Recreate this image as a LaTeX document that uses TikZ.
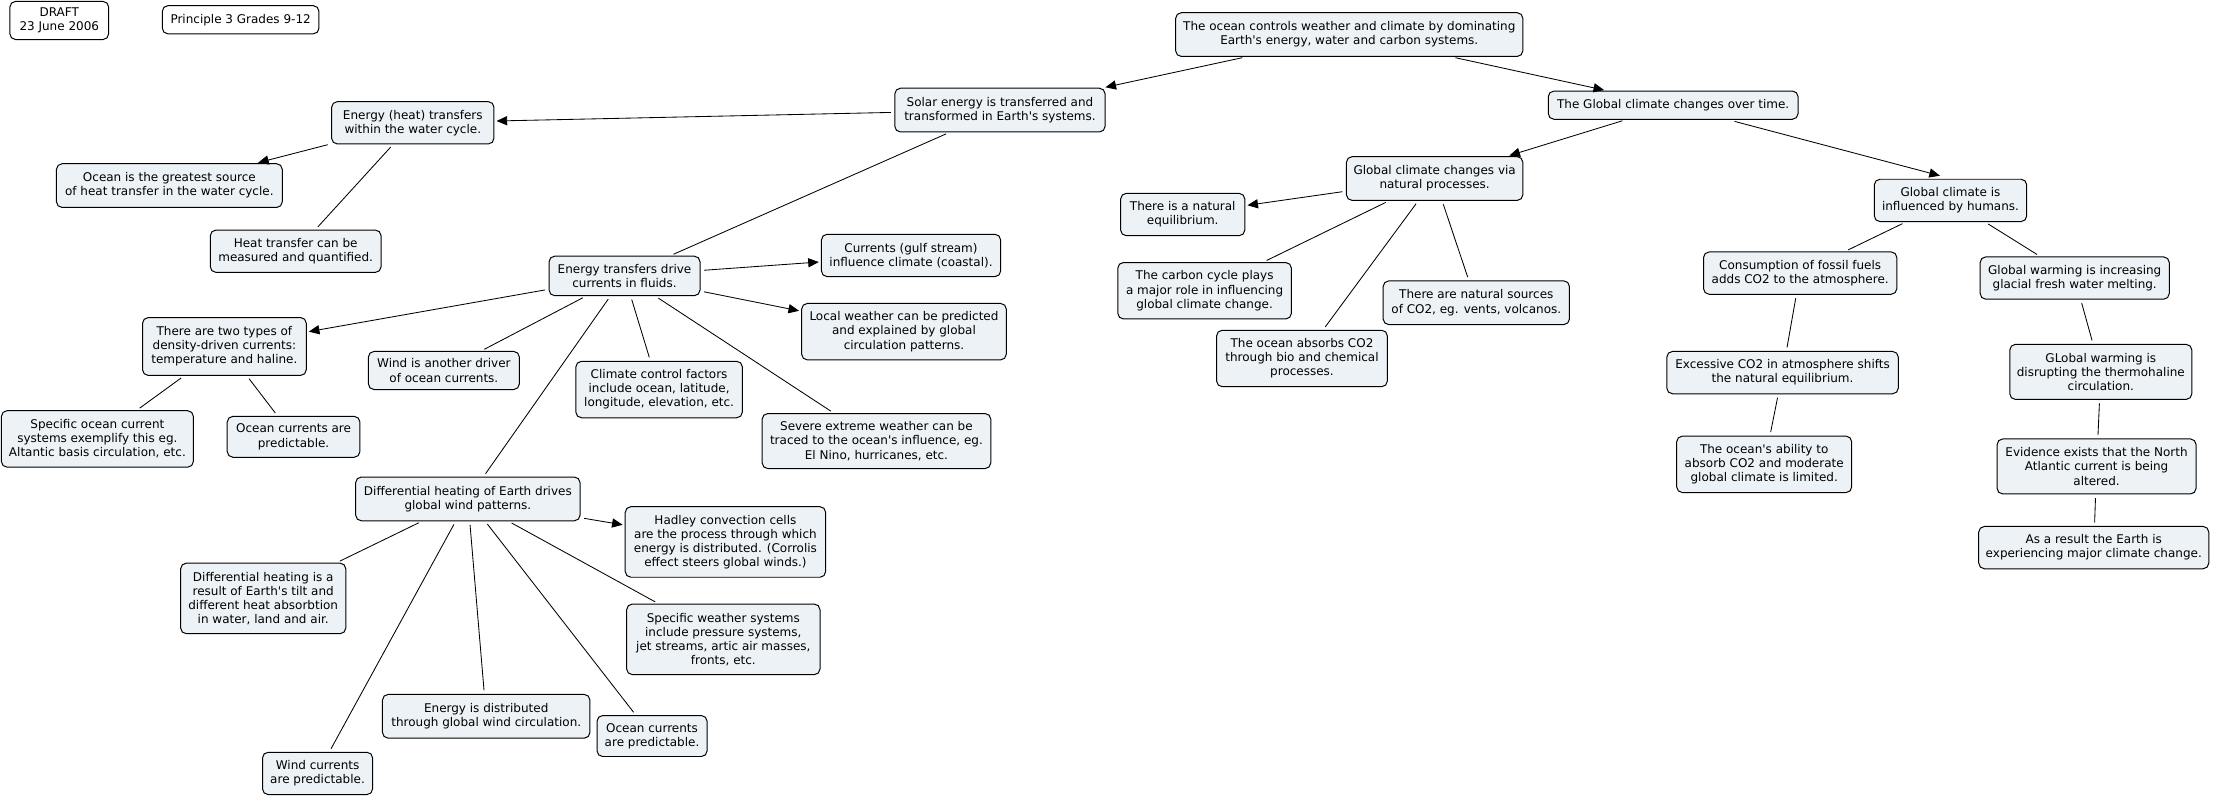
\documentclass[tikz,border=0pt]{standalone}
\usepackage{fontspec}
\setmainfont{DejaVu Sans}
\usetikzlibrary{arrows.meta,calc}
\definecolor{boxfill}{RGB}{236,242,245}
\newcommand{\aq}{\textquotesingle}
\begin{document}
\begin{tikzpicture}[x=1pt,y=-1pt,
  concept/.style={draw=black, line width=0.7pt, rounded corners=4pt, fill=boxfill,
    align=center, inner sep=0.5pt, font=\fontsize{8.5}{10}\selectfont, text=black},
  plainbox/.style={concept, fill=white},
  link/.style={line width=0.6pt, shorten <=2.5pt, shorten >=2.5pt},
  arr/.style={line width=0.6pt, shorten <=2.5pt, shorten >=1.5pt,
    -{Triangle[length=7.5pt,width=6.5pt]}},
]
\fill[white] (0,0) rectangle (1568,565);
\useasboundingbox (0,0) rectangle (1568,565);

\node[plainbox, minimum width=70pt, minimum height=27pt] (draft) at (42,14.5) {DRAFT\\23 June 2006};
\node[plainbox, minimum width=111pt, minimum height=20pt] (principle) at (170.5,14) {Principle 3 Grades 9-12};

\node[concept, minimum width=246pt, minimum height=31pt] (root) at (956,24.5) {The ocean controls weather and climate by dominating\\Earth\aq s energy, water and carbon systems.};
\node[concept, minimum width=149pt, minimum height=31pt] (solar) at (708.5,78) {Solar energy is transferred and\\transformed in Earth\aq s systems.};
\node[concept, minimum width=177pt, minimum height=20pt] (gchange) at (1185.5,74.5) {The Global climate changes over time.};
\node[concept, minimum width=115pt, minimum height=30pt] (eheat) at (292.5,87) {Energy (heat) transfers\\within the water cycle.};
\node[concept, minimum width=160pt, minimum height=31pt] (ogreat) at (120,131.5) {Ocean is the greatest source\\of heat transfer in the water cycle.};
\node[concept, minimum width=121pt, minimum height=30pt] (hmeas) at (209.5,178) {Heat transfer can be\\measured and quantified.};
\node[concept, minimum width=107pt, minimum height=28pt] (edrive) at (442.5,195.5) {Energy transfers drive\\currents in fluids.};
\node[concept, minimum width=127pt, minimum height=30pt] (cgulf) at (645.5,181) {Currents (gulf stream)\\influence climate (coastal).};
\node[concept, minimum width=145pt, minimum height=40pt] (lweather) at (640.5,235) {Local weather can be predicted\\and explained by global\\circulation patterns.};
\node[concept, minimum width=116pt, minimum height=41pt] (twotypes) at (159,245.5) {There are two types of\\density-driven currents:\\temperature and haline.};
\node[concept, minimum width=107pt, minimum height=27pt] (wind) at (314.5,262.5) {Wind is another driver\\of ocean currents.};
\node[concept, minimum width=118pt, minimum height=40pt] (cctrl) at (467,276) {Climate control factors\\include ocean, latitude,\\longitude, elevation, etc.};
\node[concept, minimum width=162pt, minimum height=39pt] (severe) at (621,312.5) {Severe extreme weather can be\\traced to the ocean\aq s influence, eg.\\El Nino, hurricanes, etc.};
\node[concept, minimum width=136pt, minimum height=40pt] (specocean) at (69,311) {Specific ocean current\\systems exemplify this eg.\\Altantic basis circulation, etc.};
\node[concept, minimum width=94pt, minimum height=29pt] (opred1) at (208,309.5) {Ocean currents are\\predictable.};
\node[concept, minimum width=159pt, minimum height=31pt] (diffheat) at (331.5,353.5) {Differential heating of Earth drives\\global wind patterns.};
\node[concept, minimum width=142pt, minimum height=50pt] (hadley) at (514,384) {Hadley convection cells\\are the process through which\\energy is distributed. (Corrolis\\effect steers global winds.)};
\node[concept, minimum width=117pt, minimum height=50pt] (diffresult) at (186.5,424) {Differential heating is a\\result of Earth\aq s tilt and\\different heat absorbtion\\in water, land and air.};
\node[concept, minimum width=137pt, minimum height=50pt] (specweather) at (512.5,453) {Specific weather systems\\include pressure systems,\\jet streams, artic air masses,\\fronts, etc.};
\node[concept, minimum width=147pt, minimum height=31pt] (edist) at (344.5,507.5) {Energy is distributed\\through global wind circulation.};
\node[concept, minimum width=78pt, minimum height=29pt] (opred2) at (462,521.5) {Ocean currents\\are predictable.};
\node[concept, minimum width=78pt, minimum height=30pt] (windcurr) at (225,548) {Wind currents\\are predictable.};

\node[concept, minimum width=125pt, minimum height=31pt] (natural) at (1016.5,126.5) {Global climate changes via\\natural processes.};
\node[concept, minimum width=88pt, minimum height=30pt] (equil) at (838,152) {There is a natural\\equilibrium.};
\node[concept, minimum width=123pt, minimum height=40pt] (carbon) at (853.5,206) {The carbon cycle plays\\a major role in influencing\\global climate change.};
\node[concept, minimum width=132pt, minimum height=31pt] (natsources) at (1046,214.5) {There are natural sources\\of CO2, eg. vents, volcanos.};
\node[concept, minimum width=121pt, minimum height=40pt] (oabsorbs) at (922.5,254) {The ocean absorbs CO2\\through bio and chemical\\processes.};
\node[concept, minimum width=108pt, minimum height=30pt] (humans) at (1382,142) {Global climate is\\influenced by humans.};
\node[concept, minimum width=137pt, minimum height=30pt] (consumption) at (1275.5,193.5) {Consumption of fossil fuels\\adds CO2 to the atmosphere.};
\node[concept, minimum width=134pt, minimum height=30pt] (glacial) at (1470,197) {Global warming is increasing\\glacial fresh water melting.};
\node[concept, minimum width=164pt, minimum height=30pt] (excessive) at (1263,264) {Excessive CO2 in atmosphere shifts\\the natural equilibrium.};
\node[concept, minimum width=129pt, minimum height=39pt] (thermo) at (1488.5,263.5) {GLobal warming is\\disrupting the thermohaline\\circulation.};
\node[concept, minimum width=124pt, minimum height=40pt] (oability) at (1250,329) {The ocean\aq s ability to\\absorb CO2 and moderate\\global climate is limited.};
\node[concept, minimum width=141pt, minimum height=39pt] (evidence) at (1485.5,330.5) {Evidence exists that the North\\Atlantic current is being\\altered.};
\node[concept, minimum width=163pt, minimum height=30pt] (result) at (1483.5,388) {As a result the Earth is\\experiencing major climate change.};

% connectors
\draw[arr] (root) -- (solar);
\draw[arr] (root) -- (gchange);
\draw[arr] (solar) -- (eheat);
\draw[link] (solar) -- (edrive);
\draw[arr] (eheat) -- (ogreat);
\draw[link] (eheat) -- (hmeas);
\draw[arr] (edrive) -- (twotypes);
\draw[link] (edrive) -- (wind);
\draw[link] (edrive) -- (diffheat);
\draw[link] (edrive) -- (cctrl);
\draw[link] (edrive) -- (severe);
\draw[arr] (edrive) -- (cgulf);
\draw[arr] (edrive) -- (lweather);
\draw[link] (twotypes) -- (specocean);
\draw[link] (twotypes) -- (opred1);
\draw[arr] (diffheat) -- (hadley);
\draw[link] (diffheat) -- (diffresult);
\draw[link] (diffheat) -- (specweather);
\draw[link] (diffheat) -- (edist);
\draw[link] (diffheat) -- (opred2);
\draw[link] (diffheat) -- (windcurr);
\draw[arr] (gchange) -- (natural);
\draw[arr, shorten <=0pt, shorten >=0pt] ($(gchange)+(43.5,11.5)$) -- ($(humans)+(-7.5,-17.5)$);
\draw[arr] (natural) -- (equil);
\draw[link] (natural) -- (carbon);
\draw[link] (natural) -- (oabsorbs);
\draw[link] (natural) -- (natsources);
\draw[link] (humans) -- (consumption);
\draw[link] (humans) -- (glacial);
\draw[link] (consumption) -- (excessive);
\draw[link] (excessive) -- (oability);
\draw[link] (glacial) -- (thermo);
\draw[link] (thermo) -- (evidence);
\draw[link] (evidence) -- (result);
\end{tikzpicture}
\end{document}
